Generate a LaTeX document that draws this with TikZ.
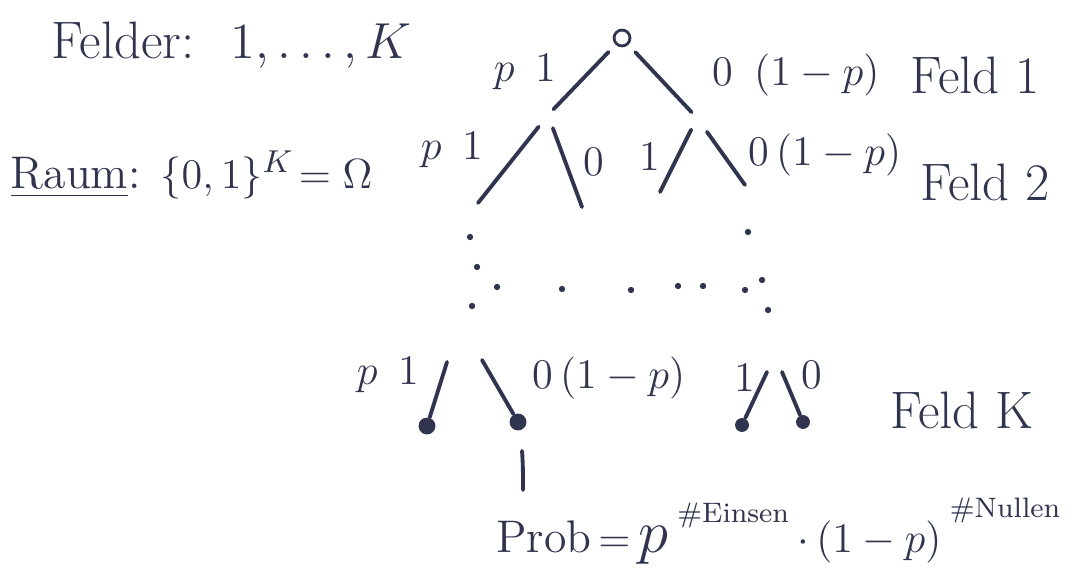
\documentclass[tikz,border=0pt]{standalone}
\usepackage{amsmath, amssymb}
\usepackage{xcolor}
\usepackage{tikz}
\usetikzlibrary{positioning, calc}
\definecolor{ink}{RGB}{48, 52, 78}

\tikzset{
  branch/.style={ink, line width=1.1pt, line cap=round},
  leaf/.style={circle, fill=ink, inner sep=1.7pt},
  big/.style={ink, font=\fontsize{15}{18}\selectfont},
  lbl/.style={ink, font=\fontsize{12}{14}\selectfont},
  sup/.style={ink, font=\fontsize{8}{10}\selectfont}
}

\begin{document}
\begin{tikzpicture}[x=0.01cm, y=-0.01cm]
    \useasboundingbox (0,0) rectangle (1074,573);

    % --- left: definitions ---
    \node[big] (felder) at (232,45) {Felder:\; $1,\dots,K$};
    \node[big, anchor=west, font=\fontsize{13}{16}\selectfont, inner sep=0pt]
      (raum) at (10,175) {\underline{Raum}: $\{0,1\}^K\!=\Omega$};

    % --- Feld 1 ---
    \node[ink, circle, draw, inner sep=1.6pt, line width=0.8pt] (root) at (622,38) {};
    \coordinate (c1) at (548,115);
    \coordinate (c0) at (697,118);
    \draw[branch, shorten <=0.1cm, shorten >=0.08cm] (root) -- (c1);
    \draw[branch, shorten <=0.1cm, shorten >=0.08cm] (root) -- (c0);
    \node[lbl] (p1a) at (525,72) {$p$\enspace 1};
    \node[lbl, anchor=west] (q0a) at (700,75) {0\enspace$(1-p)$};
    \node[big] (feld1) at (975,75) {Feld 1};

    % --- Feld 2 ---
    \coordinate (c11) at (478,203);
    \coordinate (c10) at (582,207);
    \coordinate (c01) at (660,192);
    \coordinate (c00) at (745,185);
    \draw[branch, shorten <=0.15cm] (c1) -- (c11);
    \draw[branch, shorten <=0.14cm] (c1) -- (c10);
    \draw[branch, shorten <=0.13cm] (c0) -- (c01);
    \draw[branch, shorten <=0.17cm] (c0) -- (c00);
    \node[lbl] (p1b) at (452,150) {$p$\enspace 1};
    \node[lbl] (q0b) at (594,162) {0};
    \node[lbl] (p1c) at (650,156) {1};
    \node[lbl, anchor=west] (q0c) at (736,155) {0\,$(1-p)$};
    \node[big] (feld2) at (985,182) {Feld 2};

    % dots in between
    \foreach \x/\y in {470/237, 477/267, 497/287, 562/289, 631/290, 678/286,
                       703/286, 745/290, 748/232, 762/280, 768/310, 472/306}
      \fill[ink] (\x,\y) circle (0.9pt);

    % --- Feld K ---
    \coordinate (ta) at (447,362);
    \coordinate (tb) at (482,360);
    \coordinate (tc) at (767,372);
    \coordinate (td) at (782,372);
    \node[leaf] (la) at (427,426) {};
    \node[leaf] (lb) at (518,422) {};
    \node[leaf, inner sep=1.4pt] (lc) at (742,425) {};
    \node[leaf, inner sep=1.4pt] (ld) at (803,422) {};
    \draw[branch] (ta) -- (la);
    \draw[branch] (tb) -- (lb);
    \draw[branch] (tc) -- (lc);
    \draw[branch] (td) -- (ld);
    \node[lbl] (p1d) at (388,375) {$p$\enspace 1};
    \node[lbl, anchor=west] (q0d) at (520,378) {0\,$(1-p)$};
    \node[lbl] (p1e) at (745,377) {1};
    \node[lbl] (q0e) at (812,375) {0};
    \node[big] (feldk) at (962,410) {Feld K};

    % --- probability of one path ---
    \coordinate (pe) at (523,490);
    \draw[branch, shorten <=0.2cm] (lb) to[bend left=4] (pe);
    \node[big, font=\fontsize{13}{16}\selectfont, anchor=base west, inner sep=1pt]
      (prob) at (492,552) {Prob$\,=$};
    \node[big, font=\fontsize{18}{20}\selectfont, anchor=base west, inner sep=1pt]
      (pp) at (prob.base east) {$p$};
    \node[sup, anchor=south west, inner sep=1pt] (eins) at ([yshift=-3pt]pp.north east) {\#Einsen};
    \node[big, font=\fontsize{13}{16}\selectfont, anchor=base west, inner sep=1pt]
      (mul) at (eins.east |- prob.base) {$\cdot\,(1-p)$};
    \node[sup, anchor=south west, inner sep=1pt] (null) at ([yshift=-3pt]mul.north east) {\#Nullen};
\end{tikzpicture}
\end{document}
